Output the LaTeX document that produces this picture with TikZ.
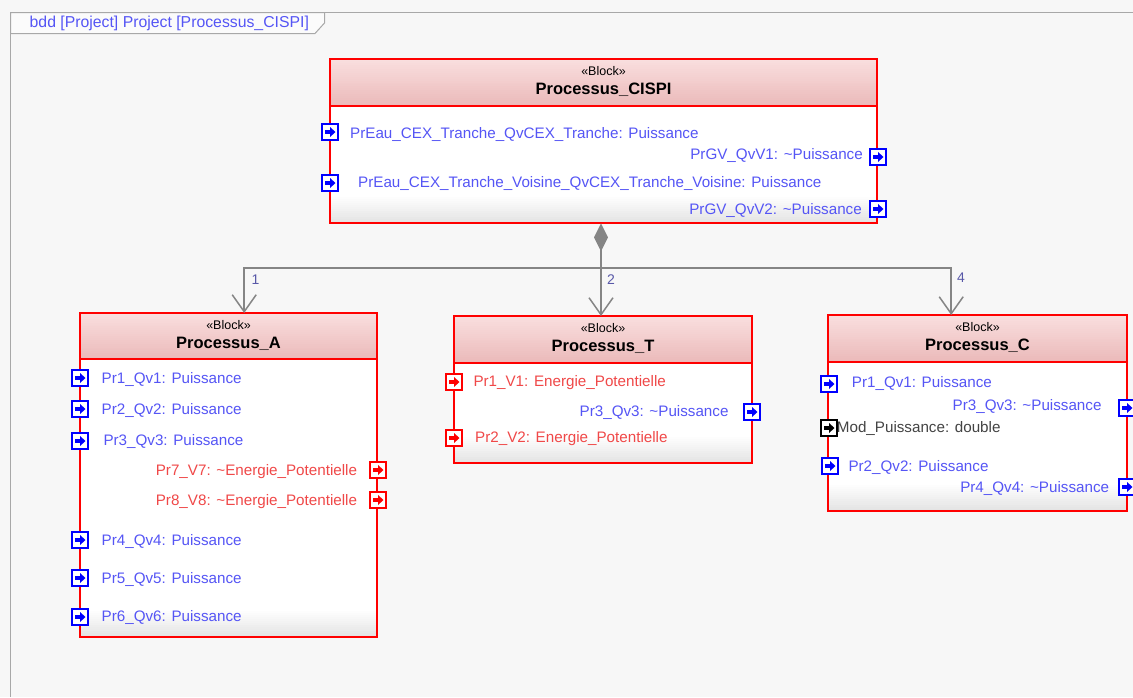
\documentclass[tikz,border=0pt]{standalone}
\usepackage{fontspec}
\setmainfont{Liberation Sans}
\usetikzlibrary{arrows.meta}
\definecolor{bg}{HTML}{F7F7F7}
\definecolor{framec}{HTML}{A8A8A8}
\definecolor{tabfill}{HTML}{FBFBFB}
\definecolor{hdtop}{HTML}{F9DEDE}
\definecolor{hdbot}{HTML}{EBBABA}
\definecolor{bodybot}{HTML}{E4E4E4}
\definecolor{blkred}{HTML}{FF0000}
\definecolor{pblue}{HTML}{0000FF}
\definecolor{pred}{HTML}{FF0000}
\definecolor{pblack}{HTML}{000000}
\definecolor{tblue}{HTML}{5555F5}
\definecolor{tred}{HTML}{F04848}
\definecolor{tgray}{HTML}{444444}
\definecolor{conng}{HTML}{858585}
\definecolor{multc}{HTML}{5858A8}
\tikzset{
  blk/.style={inner sep=0pt},
  blkline/.style={draw=blkred, line width=2pt},
  stereo/.style={font=\fontsize{12.5}{14}\selectfont, text=black, inner sep=0pt},
  btitle/.style={font=\fontsize{16.5}{19}\selectfont\bfseries, text=black, inner sep=0pt},
  ptxt/.style={font=\fontsize{15.2}{17}\selectfont, text=tblue, inner sep=0pt},
  rtxt/.style={font=\fontsize{15.2}{17}\selectfont, text=tred, inner sep=0pt},
  gtxt/.style={font=\fontsize{15.2}{17}\selectfont, text=tgray, inner sep=0pt},
  tabtxt/.style={font=\fontsize{15.8}{18}\selectfont, text=tblue, inner sep=0pt},
  multtxt/.style={font=\fontsize{14}{16}\selectfont, text=multc, inner sep=0pt},
  conn/.style={draw=conng, line width=1.5pt},
  port/.style={draw=#1, fill=white, line width=2pt, minimum width=16pt,
    minimum height=16pt, inner sep=0pt,
    path picture={
      \fill[#1] ([shift={(-5.5pt,-2.2pt)}]path picture bounding box.center) rectangle
                ([shift={(0.5pt,2.2pt)}]path picture bounding box.center);
      \fill[#1] ([shift={(0pt,-5pt)}]path picture bounding box.center) --
                ([shift={(5.5pt,0pt)}]path picture bounding box.center) --
                ([shift={(0pt,5pt)}]path picture bounding box.center) -- cycle;
    }},
}
\newcommand\mkblock[7]{%
  \fill[white] (#2,#6) rectangle (#4,#5);
  \foreach \i in {0,...,13}{%
    \pgfmathtruncatemacro\pc{100*\i/13}%
    \fill[bodybot!\pc!white] (#2,{#5-28+2*\i}) rectangle (#4,{#5-28+2*\i+2.3});
  }
  \foreach \i in {0,...,23}{%
    \pgfmathtruncatemacro\pc{100*\i/23}%
    \fill[hdbot!\pc!hdtop] (#2,{#3+(#6-#3)*\i/24}) rectangle (#4,{#3+(#6-#3)*(\i+1)/24+0.3});
  }
  \node[blk, anchor=north west, minimum width={(#4-#2)*1pt},
        minimum height={(#5-#3)*1pt}] (#1) at (#2,#3) {};
  \draw[blkline] (#1.north west) rectangle (#1.south east);
  \draw[blkline] (#2,#6) -- (#4,#6);
  \node[stereo, anchor=base] (#1s) at ({(#2+#4)/2},#3+16.5) {«Block»};
  \node[btitle, anchor=base] (#1t) at ({(#2+#4)/2},#3+35.5) {#7};
}
\begin{document}
\begin{tikzpicture}[x=1pt,y=-1pt]
\useasboundingbox (0,0) rectangle (1133,697);
\fill[bg] (0,0) rectangle (1133,697);
% frame
\draw[framec, line width=1pt] (10.5,697) -- (10.5,12.5) -- (1140,12.5);
\draw[framec, line width=1pt, fill=tabfill] (10.5,12.5) -- (324.5,12.5) -- (324.5,23) -- (315,33.5) -- (10.5,33.5) -- cycle;
\node[tabtxt, anchor=base west] (tab) at (29.5,27.5) {bdd [Project] Project [Processus\_CISPI]};

% blocks
\mkblock{P}{330}{59}{877}{223}{106}{Processus\_CISPI}
\mkblock{A}{80}{313}{377}{637}{359}{Processus\_A}
\mkblock{T}{454}{316}{752}{463}{363}{Processus\_T}
\mkblock{C}{828}{315}{1127}{511}{362}{Processus\_C}

% composition connectors
\coordinate (j) at (601,268);
\draw[conn, {Diamond[length=28pt,width=14pt,fill=conng]}-] (j |- P.south) -- (j);
\draw[conn, -{Straight Barb[length=17pt,width=24pt]}] (j) -| ([xshift=15.5pt]A.north);
\draw[conn, -{Straight Barb[length=17pt,width=24pt]}] (j) -- (j |- T.north);
\draw[conn, -{Straight Barb[length=17pt,width=24pt]}] (j) -| ([xshift=-26.5pt]C.north);
\node[multtxt, anchor=base] (m1) at (255.5,284) {1};
\node[multtxt, anchor=base] (m2) at (611,284) {2};
\node[multtxt, anchor=base] (m4) at (961,282) {4};

% Processus_CISPI ports
\node[port=pblue] (P1) at (330,132) {};
\node[ptxt, anchor=base west] (P1l) at (350,138) {PrEau\_CEX\_Tranche\_QvCEX\_Tranche: Puissance};
\node[port=pblue] (P2) at (330,183) {};
\node[ptxt, anchor=base west] (P2l) at (358,187.5) {PrEau\_CEX\_Tranche\_Voisine\_QvCEX\_Tranche\_Voisine: Puissance};
\node[port=pblue] (P3) at (878,157) {};
\node[ptxt, anchor=base east] (P3l) at (863,159) {PrGV\_QvV1: \textasciitilde Puissance};
\node[port=pblue] (P4) at (878,209) {};
\node[ptxt, anchor=base east] (P4l) at (862,214) {PrGV\_QvV2: \textasciitilde Puissance};

% Processus_A ports
\node[port=pblue] (A1) at (80,378) {};
\node[ptxt, anchor=base west] (A1l) at (101.5,383.3) {Pr1\_Qv1: Puissance};
\node[port=pblue] (A2) at (80,409) {};
\node[ptxt, anchor=base west] (A2l) at (101.5,414.3) {Pr2\_Qv2: Puissance};
\node[port=pblue] (A3) at (80,441) {};
\node[ptxt, anchor=base west] (A3l) at (103.3,445.7) {Pr3\_Qv3: Puissance};
\node[port=pred] (A7) at (378,470) {};
\node[rtxt, anchor=base east] (A7l) at (357.3,475.7) {Pr7\_V7: \textasciitilde Energie\_Potentielle};
\node[port=pred] (A8) at (378,500) {};
\node[rtxt, anchor=base east] (A8l) at (357.3,505.5) {Pr8\_V8: \textasciitilde Energie\_Potentielle};
\node[port=pblue] (A4) at (80,540) {};
\node[ptxt, anchor=base west] (A4l) at (101.5,545) {Pr4\_Qv4: Puissance};
\node[port=pblue] (A5) at (80,578) {};
\node[ptxt, anchor=base west] (A5l) at (101.5,583.3) {Pr5\_Qv5: Puissance};
\node[port=pblue] (A6) at (80,617) {};
\node[ptxt, anchor=base west] (A6l) at (101.5,621.7) {Pr6\_Qv6: Puissance};

% Processus_T ports
\node[port=pred] (T1) at (454,382) {};
\node[rtxt, anchor=base west] (T1l) at (473.3,386) {Pr1\_V1: Energie\_Potentielle};
\node[port=pblue] (T3) at (752,412) {};
\node[ptxt, anchor=base east] (T3l) at (728.7,416.7) {Pr3\_Qv3: \textasciitilde Puissance};
\node[port=pred] (T2) at (454,438) {};
\node[rtxt, anchor=base west] (T2l) at (475,442.3) {Pr2\_V2: Energie\_Potentielle};

% Processus_C ports
\node[port=pblue] (C1) at (829,384) {};
\node[ptxt, anchor=base west] (C1l) at (851.7,387.7) {Pr1\_Qv1: Puissance};
\node[port=pblue] (C3) at (1127,408) {};
\node[ptxt, anchor=base east] (C3l) at (1101.7,410.7) {Pr3\_Qv3: \textasciitilde Puissance};
\node[port=pblack] (CM) at (829,428) {};
\node[gtxt, anchor=base west] (CMl) at (836.7,432.7) {Mod\_Puissance: double};
\node[port=pblue] (C2) at (830,466) {};
\node[ptxt, anchor=base west] (C2l) at (848.3,471.7) {Pr2\_Qv2: Puissance};
\node[port=pblue] (C4) at (1127,487) {};
\node[ptxt, anchor=base east] (C4l) at (1109.3,492.7) {Pr4\_Qv4: \textasciitilde Puissance};
\end{tikzpicture}
\end{document}
